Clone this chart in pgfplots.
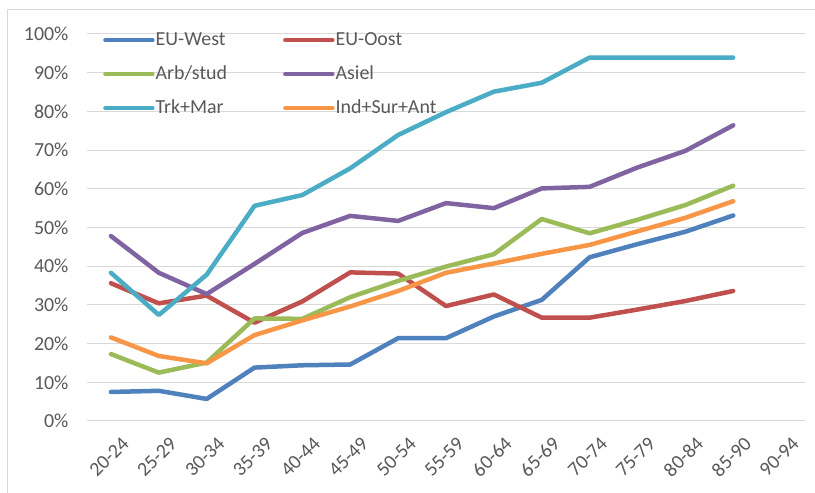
\documentclass[border=0pt]{standalone}
\usepackage{fontspec}
\setmainfont{Carlito}
\usepackage{pgfplots}
\pgfplotsset{compat=1.18}
\definecolor{cW}{HTML}{4F81BD}
\definecolor{cO}{HTML}{C0504D}
\definecolor{cA}{HTML}{9BBB59}
\definecolor{cS}{HTML}{8064A2}
\definecolor{cT}{HTML}{4BACC6}
\definecolor{cI}{HTML}{F79646}
\definecolor{txt}{HTML}{595959}
\definecolor{grd}{HTML}{D9D9D9}
\begin{document}
\begin{tikzpicture}
\useasboundingbox (0,0) rectangle (815bp,493bp);
\fill[white] (0,0) rectangle (815bp,493bp);
\draw[grd, line width=1bp] (7bp,-5bp) -- (7bp,483bp) -- (830bp,483bp);
\begin{axis}[
  at={(87bp,72bp)}, anchor=south west,
  scale only axis, width=718bp, height=387bp,
  xmin=-0.5, xmax=14.5, ymin=0, ymax=100,
  xtick={0,...,14},
  xticklabels={20-24,25-29,30-34,35-39,40-44,45-49,50-54,55-59,60-64,65-69,70-74,75-79,80-84,85-90,90-94},
  ytick={0,10,...,100},
  yticklabel={\pgfmathprintnumber{\tick}\%},
  /pgf/number format/assume math mode=true,
  ymajorgrids, grid style={grd, line width=1bp},
  axis line style={draw=none}, major tick length=0pt,
  tick label style={font=\fontsize{20}{24}\selectfont, text=txt},
  yticklabel style={xshift=-15bp},
  xticklabel style={rotate=45, anchor=east, xshift=0bp, yshift=-24bp},
  every axis plot/.append style={line width=4.5bp, line cap=round, line join=round},
  legend columns=2,
  legend image code/.code={\draw[#1, line width=4.5bp, line cap=round] (0bp,0bp) -- (47bp,0bp);},
  legend style={at={(axis description cs:0,1)}, xshift=16bp, yshift=3.5bp, anchor=north west,
    draw=none, fill=none, inner sep=0pt, row sep=15bp,
    font=\fontsize{20}{24}\selectfont, text=txt,
    cells={anchor=center},
    nodes={inner sep=1bp, text height=14bp, text depth=3bp},
    /tikz/every even column/.append style={column sep=55bp}},
  legend cell align=left,
]
\addplot[cW] coordinates {(0,7.5)(1,7.8)(2,5.7)(3,13.8)(4,14.4)(5,14.6)(6,21.4)(7,21.4)(8,27.0)(9,31.3)(10,42.3)(11,45.7)(12,48.9)(13,53.1)};
\addlegendentry{EU-West}
\addplot[cO] coordinates {(0,35.6)(1,30.4)(2,32.4)(3,25.4)(4,30.9)(5,38.4)(6,38.1)(7,29.7)(8,32.7)(9,26.7)(10,26.7)(11,28.8)(12,31.0)(13,33.6)};
\addlegendentry{EU-Oost}
\addplot[cA] coordinates {(0,17.3)(1,12.5)(2,15.1)(3,26.5)(4,26.4)(5,32.0)(6,36.2)(7,39.9)(8,43.1)(9,52.2)(10,48.5)(11,52.0)(12,55.8)(13,60.8)};
\addlegendentry{Arb/stud}
\addplot[cS] coordinates {(0,47.8)(1,38.3)(2,32.8)(3,40.6)(4,48.6)(5,53.0)(6,51.7)(7,56.3)(8,55.0)(9,60.1)(10,60.5)(11,65.5)(12,69.8)(13,76.4)};
\addlegendentry{Asiel}
\addplot[cT] coordinates {(0,38.3)(1,27.4)(2,37.8)(3,55.6)(4,58.4)(5,65.3)(6,73.9)(7,79.8)(8,85.1)(9,87.4)(10,93.9)(11,93.9)(12,93.9)(13,93.9)};
\addlegendentry{Trk+Mar}
\addplot[cI] coordinates {(0,21.6)(1,16.8)(2,14.9)(3,22.2)(4,26.0)(5,29.6)(6,33.6)(7,38.3)(8,40.7)(9,43.2)(10,45.5)(11,49.0)(12,52.5)(13,56.8)};
\addlegendentry{Ind+Sur+Ant}
\end{axis}
\end{tikzpicture}
\end{document}
